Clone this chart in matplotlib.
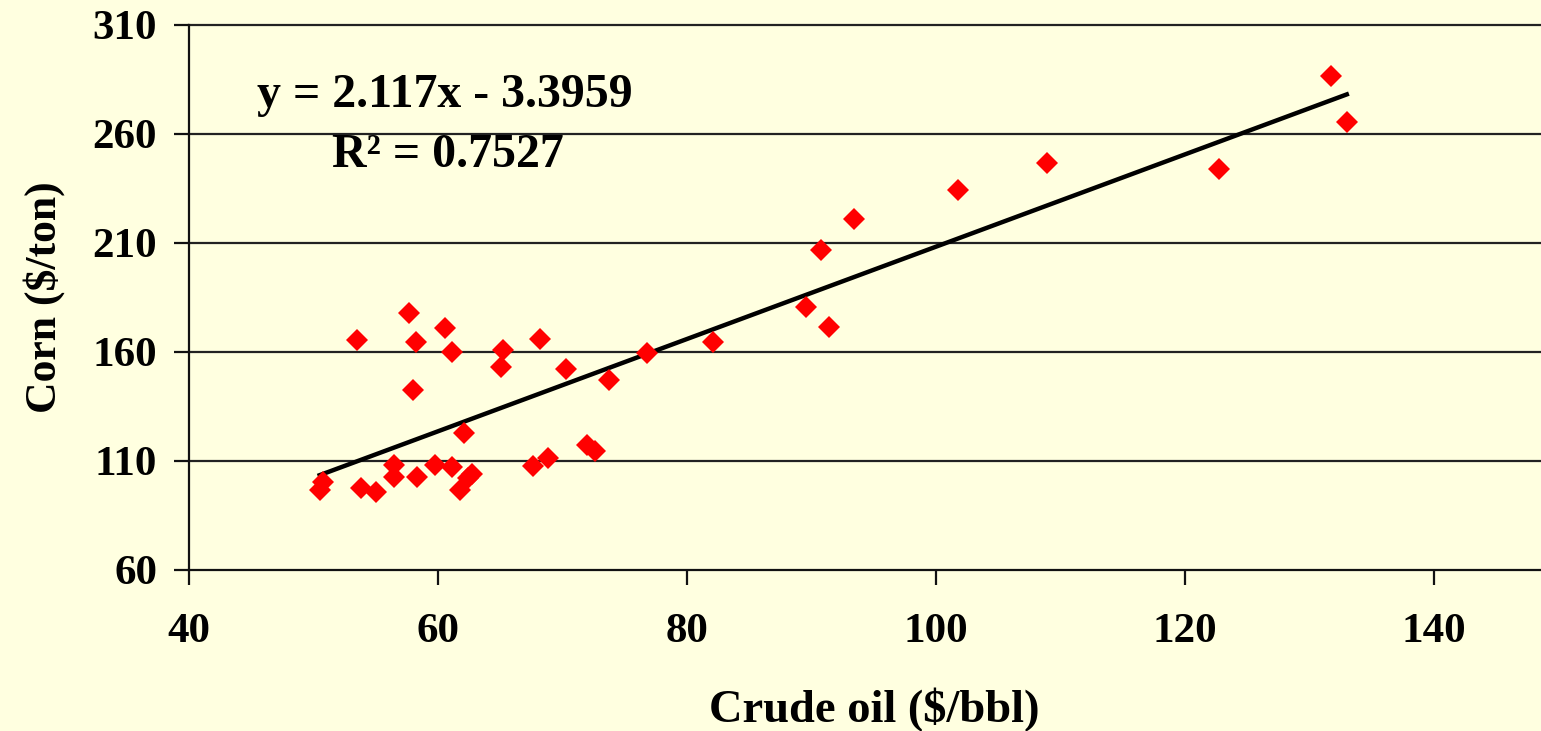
import numpy as np
import matplotlib
matplotlib.use("Agg")
import matplotlib.pyplot as plt

# crude oil price ($/bbl) vs corn price ($/ton)
crude_oil = [50.5, 50.8, 53.5, 53.8, 55.0, 56.5, 56.5, 57.7, 58.0, 58.2,
             58.3, 59.8, 60.6, 61.1, 61.1, 61.8, 62.1, 62.4, 62.7, 65.2,
             65.1, 68.2, 67.6, 68.8, 70.3, 72.0, 72.6, 73.7, 76.8, 82.1,
             89.6, 91.4, 90.8, 93.4, 101.8, 108.9, 122.7, 131.7, 133.0]
corn = [96.7, 100.4, 165.5, 97.6, 95.8, 108.2, 102.7, 177.9, 142.6, 164.6,
        102.7, 108.2, 171.0, 160.0, 107.2, 96.7, 122.8, 102.2, 104.0, 160.9,
        153.1, 166.0, 107.7, 111.4, 152.2, 117.3, 114.6, 147.2, 159.5, 164.6,
        180.6, 171.5, 206.8, 221.0, 234.3, 246.7, 243.9, 286.6, 265.5]

# linear trend reported on the chart
SLOPE = 2.117
INTERCEPT = -3.3959
R_SQUARED = 0.7527

x_ticks = [40, 60, 80, 100, 120, 140]
y_ticks = [60, 110, 160, 210, 260, 310]

BG = '#FFFFE0'
plt.rcParams['font.family'] = ['Liberation Serif', 'DejaVu Serif']
plt.rcParams['font.weight'] = 'bold'

fig = plt.figure(figsize=(15.41, 7.31), dpi=100, facecolor=BG)
ax = fig.add_axes([189 / 1541, 1 - 570 / 731, 1 - 189 / 1541, (570 - 25) / 731])
ax.set_facecolor(BG)

# gridlines
for yv in y_ticks[1:]:
    ax.axhline(yv, color='#222222', linewidth=1.6, zorder=1, clip_on=False)

# trendline over the data range
xs = np.array([min(crude_oil), max(crude_oil)])
ax.plot(xs, SLOPE * xs + INTERCEPT, color='black', linewidth=3.2, zorder=3)

ax.plot(crude_oil, corn, linestyle='none', marker='D', markersize=11.2,
        color='#FF0000', markeredgewidth=0, zorder=4)

ax.set_xlim(40, 148.6)
ax.set_ylim(60, 310)
ax.set_xticks(x_ticks)
ax.set_yticks(y_ticks)

for side in ['top', 'right']:
    ax.spines[side].set_visible(False)
for side in ['left', 'bottom']:
    ax.spines[side].set_linewidth(1.6)
    ax.spines[side].set_color('#111111')

ax.tick_params(axis='both', direction='out', length=11, width=1.6,
               color='#111111', labelsize=31)
ax.tick_params(axis='x', pad=20)
ax.tick_params(axis='y', pad=12)
for lbl in ax.get_xticklabels() + ax.get_yticklabels():
    lbl.set_fontweight('bold')

ax.set_xlabel('Crude oil ($/bbl)', fontsize=33.5, fontweight='bold')
ax.xaxis.set_label_coords(0.507, -0.257)
ax.xaxis.label.set_va('center')
ax.set_ylabel('Corn ($/ton)', fontsize=31.5, fontweight='bold', labelpad=20)

sign = '-' if INTERCEPT < 0 else '+'
ax.text(45.5, 278, f'y = {SLOPE}x {sign} {abs(INTERCEPT)}', fontsize=34.5,
        fontweight='bold', ha='left', va='center', zorder=5)
ax.text(51.5, 250.5, f'R² = {R_SQUARED}', fontsize=34.5,
        fontweight='bold', ha='left', va='center', zorder=5)

fig.savefig('out.png', dpi=100, facecolor=BG)
